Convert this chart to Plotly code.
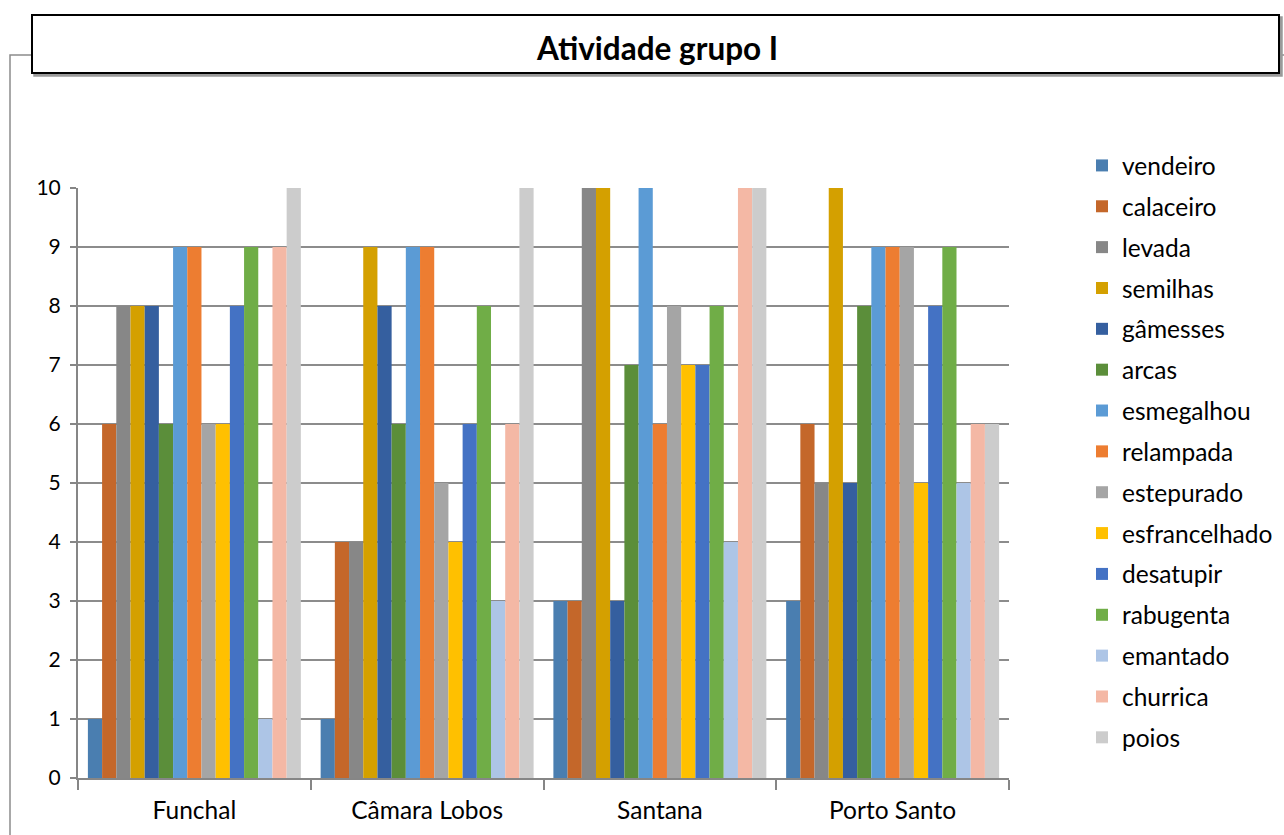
import plotly.graph_objects as go

categories = ["Funchal", "Câmara Lobos", "Santana", "Porto Santo"]
series_names = ["vendeiro", "calaceiro", "levada", "semilhas", "gâmesses", "arcas",
                "esmegalhou", "relampada", "estepurado", "esfrancelhado", "desatupir",
                "rabugenta", "emantado", "churrica", "poios"]
vendeiro = [1, 1, 3, 3]
calaceiro = [6, 4, 3, 6]
levada = [8, 4, 10, 5]
semilhas = [8, 9, 10, 10]
gamesses = [8, 8, 3, 5]
arcas = [6, 6, 7, 8]
esmegalhou = [9, 9, 10, 9]
relampada = [9, 9, 6, 9]
estepurado = [6, 5, 8, 9]
esfrancelhado = [6, 4, 7, 5]
desatupir = [8, 6, 7, 8]
rabugenta = [9, 8, 8, 9]
emantado = [1, 3, 4, 5]
churrica = [9, 6, 10, 6]
poios = [10, 10, 10, 6]
values = [vendeiro, calaceiro, levada, semilhas, gamesses, arcas, esmegalhou, relampada,
          estepurado, esfrancelhado, desatupir, rabugenta, emantado, churrica, poios]
colors = ["#4A7EB0", "#C4672A", "#878787", "#D4A000", "#355F9F", "#5B8E3A", "#5B9BD5",
          "#ED7D31", "#A5A5A5", "#FFC000", "#4472C4", "#70AD47", "#ADC5E6", "#F4B8A5", "#CCCCCC"]
yticks = [0, 1, 2, 3, 4, 5, 6, 7, 8, 9, 10]

FONT = "Lato, 'Open Sans', sans-serif"

fig = go.Figure()
for name, vals, col in zip(series_names, values, colors):
    fig.add_trace(go.Bar(x=categories, y=vals, name=name, marker_color=col,
                         marker_line_width=0, legendgroup=name))

W, H = 1284, 835
L, R, T, B = 78, 1009, 188, 778
fig.update_layout(
    width=W, height=H,
    barmode="group", bargap=0.085, bargroupgap=0,
    paper_bgcolor="white", plot_bgcolor="white",
    margin=dict(l=L, r=W - R, t=T, b=H - B, autoexpand=False),
    font=dict(family=FONT, size=20, color="#000000"),
    showlegend=True,
    legend=dict(x=(1082 - L) / (R - L), xanchor="left", xref="paper",
                y=(B - 143) / (B - T), yanchor="top", yref="paper",
                maxheight=800,
                traceorder="grouped", tracegroupgap=6,
                font=dict(family=FONT, size=24.5, color="#000000"),
                itemwidth=30, bgcolor="rgba(0,0,0,0)"),
    xaxis=dict(type="category", showgrid=False, showline=True, linecolor="#868686", linewidth=2,
               ticks="outside", tickson="boundaries", ticklen=10, tickcolor="#868686", tickwidth=2,
               ticklabelstandoff=10,
               tickfont=dict(family=FONT, size=24.5, color="#000000")),
    yaxis=dict(range=[0, 10], tickvals=yticks, ticktext=[str(v) for v in yticks],
               showgrid=True, gridcolor="#8C8C8C", gridwidth=1.5,
               showline=True, linecolor="#868686", linewidth=2,
               ticks="outside", ticklen=6, tickcolor="#868686", tickwidth=1.5,
               ticklabelstandoff=5,
               zeroline=False, tickfont=dict(family=FONT, size=21, color="#000000")),
)

def px_x(p):
    return (p - L) / (R - L)

def px_y(p):
    return (B - p) / (B - T)

# outer chart frame (partially hidden by title box)
fig.add_shape(type="rect", xref="paper", yref="paper",
              x0=px_x(10), x1=px_x(1300), y0=px_y(900), y1=px_y(55),
              line=dict(color="#8C8C8C", width=1.5), fillcolor="rgba(0,0,0,0)", layer="below")
# title box shadow
fig.add_shape(type="rect", xref="paper", yref="paper",
              x0=px_x(34), x1=px_x(1282), y0=px_y(76), y1=px_y(17),
              line=dict(color="#9A9A9A", width=1.5), fillcolor="#9A9A9A")
# title box
fig.add_shape(type="rect", xref="paper", yref="paper",
              x0=px_x(32), x1=px_x(1279), y0=px_y(73), y1=px_y(15),
              line=dict(color="#000000", width=2), fillcolor="white")
fig.add_annotation(text="<b>Atividade grupo I</b>", xref="paper", yref="paper",
                   x=px_x(657), y=px_y(48), xanchor="center", yanchor="middle",
                   showarrow=False, font=dict(family=FONT, size=31.5, color="#000000"))

fig.write_html("out.html")
